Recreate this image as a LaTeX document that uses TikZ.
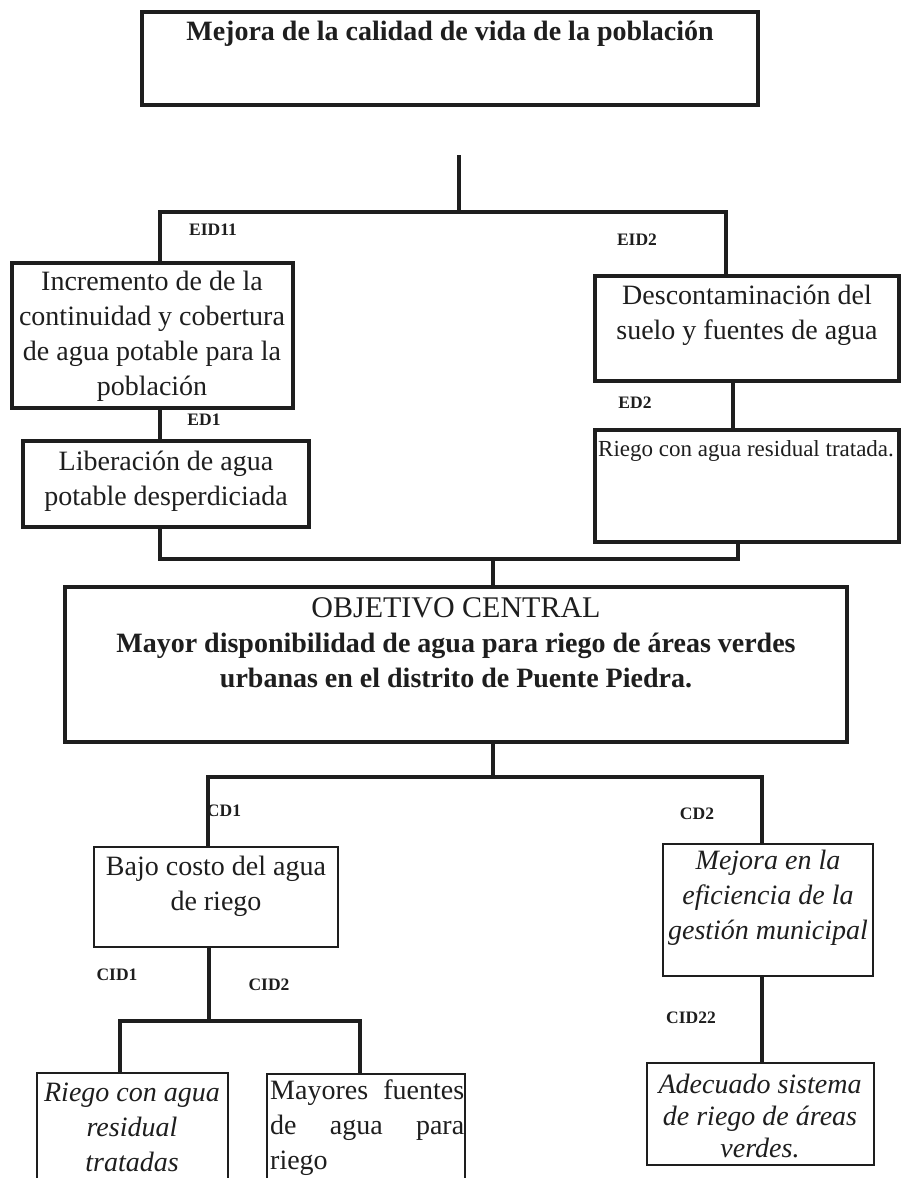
\documentclass[tikz,border=0pt]{standalone}
\usepackage{fontspec}
\setmainfont{Liberation Serif}
\definecolor{ink}{HTML}{1E1E1E}
\begin{document}
\begin{tikzpicture}[x=1pt,y=-1pt,
  box/.style={draw=ink, line width=3.2pt, inner sep=0pt, outer sep=0pt, anchor=north west},
  lightbox/.style={draw=ink, line width=2.3pt, inner sep=0pt, outer sep=0pt, anchor=north west},
  link/.style={draw=ink, line width=3.2pt, line join=miter},
  body/.style={font=\fontsize{28}{35}\selectfont, align=center, inner sep=0pt, text=ink},
  slant/.style={font=\fontsize{28}{35}\selectfont\itshape, align=center, inner sep=0pt, text=ink},
  tag/.style={font=\fontsize{17.5}{20}\selectfont\bfseries, inner sep=0pt, text=ink},
]
\useasboundingbox (0,0) rectangle (902,1178);
\fill[white] (0,0) rectangle (902,1178);
\clip (0,0) rectangle (902,1178);

% ---------- boxes ----------
\node[box, minimum width=616pt, minimum height=93pt] (top) at (142,12) {};
\node[box, minimum width=281pt, minimum height=145pt] (inc) at (12,263) {};
\node[box, minimum width=286pt, minimum height=86pt] (lib) at (23,441) {};
\node[box, minimum width=304pt, minimum height=105pt] (desc) at (595,276) {};
\node[box, minimum width=304pt, minimum height=112pt] (riego) at (595,430) {};
\node[box, minimum width=782pt, minimum height=155pt] (central) at (65,587) {};
\node[lightbox, minimum width=244pt, minimum height=100pt] (bajo) at (94,847) {};
\node[lightbox, minimum width=210pt, minimum height=132pt] (efic) at (663,844) {};
\node[lightbox, minimum width=191pt, minimum height=130pt] (riegoT) at (37,1073) {};
\node[lightbox, minimum width=198pt, minimum height=130pt] (mayores) at (267,1074) {};
\node[lightbox, minimum width=227pt, minimum height=102pt] (adec) at (647,1063) {};

% ---------- box texts ----------
\node[body, font=\fontsize{28}{35}\selectfont\bfseries] (topT) at (450,34)
  {Mejora de la calidad de vida de la población};
\node[body] (incT) at (152,336)
  {Incremento de de la\\continuidad y cobertura\\de agua potable para la\\población};
\node[body] (libT) at (166,481) {Liberación de agua\\potable desperdiciada};
\node[body] (descT) at (747,315) {Descontaminación del\\suelo y fuentes de agua};
\node[body, font=\fontsize{23}{28}\selectfont, anchor=west] (riegoTx) at (598,451)
  {Riego con agua residual tratada.};
\node[body] (centralT) at (456,643)
  {\fontsize{30}{35}\selectfont OBJETIVO CENTRAL\\
   \bfseries Mayor disponibilidad de agua para riego de áreas verdes\\
   \bfseries urbanas en el distrito de Puente Piedra.};
\node[body] (bajoT) at (216,886) {Bajo costo del agua\\de riego};
\node[slant] (eficT) at (768,898) {Mejora en la\\eficiencia de la\\gestión municipal};
\node[slant] (riegoTT) at (132,1127) {Riego con agua\\residual\\tratadas};
\node[body, align=left, text width=196pt, anchor=west] (mayoresT) at (270,1128)
  {\makebox[194pt][l]{Mayores\hfill fuentes}\\\makebox[194pt][l]{de\hfill agua\hfill para}\\riego};
\node[slant, font=\fontsize{28}{32}\selectfont\itshape] (adecT) at (760,1116)
  {Adecuado sistema\\de riego de áreas\\verdes.};

% ---------- branch tags ----------
\node[tag] (eid11) at (213,230) {EID11};
\node[tag] (eid2) at (637,240) {EID2};
\node[tag] (ed1) at (204,420) {ED1};
\node[tag] (ed2) at (635,403) {ED2};
\node[tag] (cd1) at (224,811) {CD1};
\node[tag] (cd2) at (697,814) {CD2};
\node[tag] (cid1) at (117,975) {CID1};
\node[tag] (cid2) at (269,985) {CID2};
\node[tag] (cid22) at (691,1018) {CID22};

% ---------- junction points ----------
\coordinate (a0) at (459,155);
\coordinate (a1) at (459,212);
\coordinate (aL) at (160,212);
\coordinate (aR) at (726,212);
\coordinate (bx) at (733,381);
\coordinate (cL) at (160,559);
\coordinate (cM) at (493,559);
\coordinate (cR) at (738,559);
\coordinate (dM) at (493,777);
\coordinate (dL) at (208,777);
\coordinate (dR) at (762,777);
\coordinate (eM) at (209,1021);
\coordinate (eL) at (120,1021);
\coordinate (eR) at (360,1021);

% ---------- connectors ----------
\draw[link] (a0) -- (a1);
\draw[link] (aL |- inc.north) -- (aL) -- (aR) -- (aR |- desc.north);
\draw[link] (aL |- inc.south) -- (aL |- lib.north);
\draw[link] (bx |- desc.south) -- (bx |- riego.north);
\draw[link] (cL |- lib.south) -- (cL) -- (cR) -- (cR |- riego.south);
\draw[link] (cM) -- (cM |- central.north);
\draw[link] (dM |- central.south) -- (dM);
\draw[link] (dL |- bajo.north) -- (dL) -- (dR) -- (dR |- efic.north);
\draw[link] (eM |- bajo.south) -- (eM);
\draw[link] (eL |- riegoT.north) -- (eL) -- (eR) -- (eR |- mayores.north);
\draw[link] (dR |- efic.south) -- (dR |- adec.north);
\end{tikzpicture}
\end{document}
